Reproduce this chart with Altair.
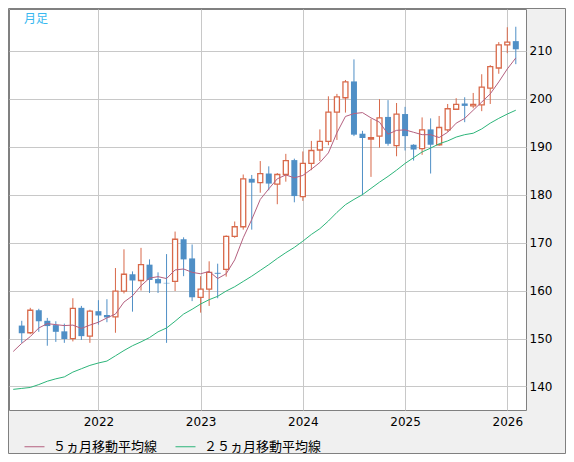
import altair as alt
import pandas as pd

# ---- data (monthly candles, 2021-04 .. 2026-02) ----
months = [str(p) for p in pd.period_range("2021-04", periods=59, freq="M")]

opens = [152.7, 151.2, 155.9, 153.7, 152.8, 151.5, 150.0, 156.4, 150.5, 155.7,
         154.9, 154.5, 159.9, 163.4, 162.1, 165.4, 162.4, 161.6, 161.9, 170.7,
         166.7, 158.6, 160.3, 163.7, 164.4, 171.3, 173.3, 183.3, 182.5, 184.4,
         182.2, 184.2, 187.2, 179.6, 186.5, 189.3, 191.1, 197.2, 200.2, 203.6,
         192.7, 191.6, 192.2, 196.2, 190.2, 196.8, 190.4, 189.6, 193.6, 190.4,
         193.5, 197.8, 199.0, 198.5, 198.7, 202.2, 206.4, 211.2, 212.0]
highs = [153.7, 156.4, 156.2, 154.3, 153.6, 153.1, 158.4, 156.8, 156.0, 158.0,
         158.2, 164.7, 168.6, 164.0, 168.9, 166.5, 163.8, 167.6, 172.3, 171.1,
         169.6, 163.0, 166.1, 165.6, 171.5, 174.4, 184.2, 184.1, 187.0, 185.9,
         184.5, 188.5, 187.5, 189.0, 191.2, 193.6, 200.5, 201.0, 203.9, 208.2,
         193.3, 195.8, 199.9, 199.7, 199.1, 198.3, 190.5, 196.1, 195.9, 196.4,
         198.9, 200.1, 200.3, 201.2, 205.1, 207.0, 211.8, 214.9, 215.0]
lows = [149.1, 150.9, 151.4, 148.5, 149.3, 149.1, 149.4, 149.7, 149.1, 152.9,
        153.4, 151.2, 159.4, 155.6, 160.0, 159.5, 159.5, 149.1, 159.9, 163.0,
        157.8, 155.4, 156.8, 158.4, 162.9, 171.0, 172.7, 172.7, 180.4, 180.9,
        178.0, 182.7, 178.4, 178.7, 185.1, 187.0, 190.3, 191.4, 197.1, 192.2,
        179.9, 183.7, 189.8, 190.2, 188.0, 189.2, 187.1, 188.3, 184.4, 190.2,
        193.1, 197.7, 195.1, 198.0, 197.4, 198.9, 205.2, 209.5, 207.2]
closes = [151.1, 155.9, 153.6, 152.6, 151.4, 149.9, 156.3, 150.5, 155.7, 154.8,
          154.4, 159.9, 163.4, 162.1, 165.4, 162.2, 161.5, 161.5, 170.7, 166.5,
          158.6, 160.3, 163.8, 163.5, 171.3, 173.3, 183.3, 182.5, 184.4, 182.3,
          184.2, 187.1, 179.7, 186.5, 189.2, 191.1, 197.2, 200.4, 203.5, 192.5,
          191.8, 191.9, 196.0, 190.6, 196.8, 192.2, 189.4, 193.5, 190.4, 194.0,
          197.9, 198.8, 198.5, 198.8, 202.4, 206.7, 211.2, 211.8, 210.3]

# moving averages, starting one month before the first candle
ma_idx = list(range(-1, 59))
ma5 = [147.3, 149.0, 150.4, 152.2, 153.1, 152.9, 152.7, 152.8, 152.1, 152.8,
       153.4, 154.3, 155.1, 157.6, 158.9, 161.0, 162.6, 162.9, 162.5, 164.3,
       164.5, 163.8, 163.5, 164.0, 162.5, 163.5, 166.4, 171.0, 174.8, 179.0,
       181.2, 183.3, 184.1, 183.5, 184.0, 185.3, 186.7, 188.7, 192.9, 196.3,
       196.9, 197.1, 196.0, 195.1, 192.6, 193.4, 193.5, 193.0, 192.5, 192.5,
       191.9, 193.0, 194.9, 195.9, 197.6, 199.3, 201.0, 203.5, 206.2, 208.5]
ma25 = [139.4, 139.6, 139.8, 140.4, 141.1, 141.6, 142.0, 143.0, 143.7, 144.4,
        144.9, 145.3, 146.4, 147.5, 148.5, 149.3, 150.2, 151.4, 152.2, 153.6,
        155.1, 156.1, 157.2, 158.1, 158.8, 159.9, 160.8, 161.9, 163.0, 164.2,
        165.4, 166.7, 167.9, 169.0, 170.3, 171.7, 172.9, 174.5, 176.3, 177.9,
        179.0, 180.0, 181.3, 182.6, 183.8, 185.1, 186.5, 187.7, 188.9, 189.7,
        190.6, 191.2, 192.0, 192.5, 192.8, 193.7, 194.9, 195.9, 196.8, 197.6]

series_names = ["５ヵ月移動平均線", "２５ヵ月移動平均線"]
year_labels = ["2022", "2023", "2024", "2025", "2026"]
year_ticks = [9, 21, 33, 45, 57]          # month index of each January
y_ticks = [140, 150, 160, 170, 180, 190, 200, 210]

# ---- tables ----
candles = pd.DataFrame({
    "idx": list(range(len(months))),
    "month": months,
    "open": opens, "high": highs, "low": lows, "close": closes,
})
candles["dir"] = ["up" if c >= o else "down" for o, c in zip(opens, closes)]

ma = pd.DataFrame({
    "idx": ma_idx * 2,
    "value": ma5 + ma25,
    "series": [series_names[0]] * len(ma5) + [series_names[1]] * len(ma25),
})

# ---- style ----
W, H = 517, 401
PAD = {"left": 1, "top": 1, "right": 40, "bottom": 44}
UP = "#d8694a"
DOWN = "#4f8fc6"
PINK = "#b4607f"
GREEN = "#2db57a"
GRID = "#c8c8c8"
FONT = "DejaVu Sans"
JP = "Noto Sans CJK JP"

label_expr = "[" + ",".join(f"'{y}'" for y in year_labels) + "][indexof([" + \
    ",".join(str(t) for t in year_ticks) + "], datum.value)]"

X = alt.X("idx:Q",
          scale=alt.Scale(domain=[-0.91, 58.61], nice=False, zero=False),
          axis=alt.Axis(values=year_ticks, labelExpr=label_expr, grid=True,
                        gridColor=GRID, ticks=False, domain=False, title=None,
                        labelPadding=6, labelFont=FONT, labelFontSize=12,
                        labelColor="#000000"))
YSCALE = alt.Scale(domain=[135.1, 218.7], nice=False, zero=False)
YAXIS = alt.Axis(orient="right", values=y_ticks, grid=True, gridColor=GRID,
                 ticks=False, domain=False, title=None, labelPadding=3,
                 labelFont=FONT, labelFontSize=12, labelColor="#000000")

base = alt.Chart(candles)

wick_up = base.transform_filter(alt.datum.dir == "up").mark_rule(
    color=UP, strokeWidth=1).encode(
    x=X, y=alt.Y("low:Q", scale=YSCALE, axis=YAXIS), y2="high:Q")
wick_down = base.transform_filter(alt.datum.dir == "down").mark_rule(
    color=DOWN, strokeWidth=1).encode(
    x=X, y=alt.Y("low:Q", scale=YSCALE, axis=YAXIS), y2="high:Q")

body_down = base.transform_filter(alt.datum.dir == "down").mark_bar(
    size=6, color=DOWN).encode(
    x=X, y=alt.Y("open:Q", scale=YSCALE, axis=YAXIS), y2="close:Q")
body_up = base.transform_filter(alt.datum.dir == "up").mark_bar(
    size=5, fill="#ffffff", stroke=UP, strokeWidth=1.3).encode(
    x=X, y=alt.Y("open:Q", scale=YSCALE, axis=YAXIS), y2="close:Q")

lines = alt.Chart(ma).mark_line(strokeWidth=1, clip=True).encode(
    x=X,
    y=alt.Y("value:Q", scale=YSCALE, axis=YAXIS),
    color=alt.Color("series:N",
                    scale=alt.Scale(domain=series_names, range=[PINK, GREEN]),
                    sort=series_names,
                    legend=alt.Legend(orient="none", legendX=15, legendY=H + 26,
                                      direction="horizontal", title=None,
                                      symbolType="stroke", symbolSize=400,
                                      symbolStrokeWidth=1, labelFont=JP,
                                      labelFontSize=13, labelColor="#000000",
                                      labelOffset=8, columnPadding=15,
                                      labelLimit=300, padding=0)),
)

label = alt.Chart(pd.DataFrame({"t": ["月足"]})).mark_text(
    font=JP, fontSize=12, color="#38b8f0", align="left", baseline="middle").encode(
    x=alt.value(15), y=alt.value(10), text="t:N")

frame = alt.Chart(pd.DataFrame({"a": [0]})).mark_rect(
    fillOpacity=0, stroke="#808080", strokeWidth=1, clip=False).encode(
    x=alt.value(-0.5), x2=alt.value(W + PAD["right"] - 0.5),
    y=alt.value(-0.5), y2=alt.value(H + PAD["bottom"] - 0.5))

chart = alt.layer(frame, wick_up, wick_down, body_down, body_up, lines, label).properties(
    width=W, height=H, padding=PAD,
    autosize=alt.AutoSizeParams(type="none"),
    background="#f0f0f0",
).configure_view(
    stroke="#808080", strokeWidth=1, fill="#ffffff"
)

chart.save("out.html", embed_options={"renderer": "svg", "actions": False})
